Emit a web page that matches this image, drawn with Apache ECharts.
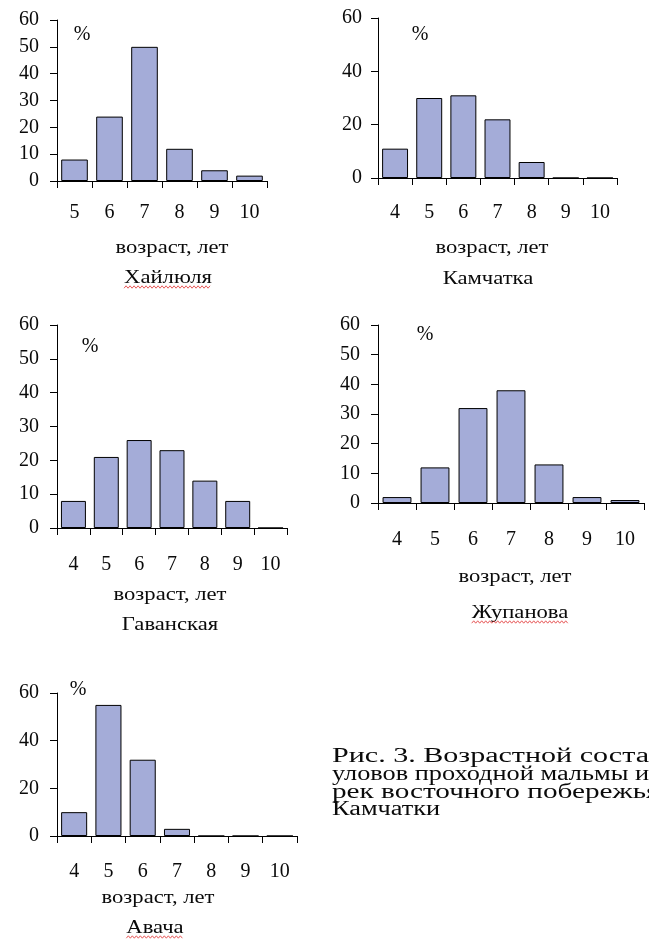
<!DOCTYPE html>
<html><head><meta charset="utf-8">
<script src="https://cdn.jsdelivr.net/npm/echarts@6/dist/echarts.min.js"></script>
<style>html,body{margin:0;padding:0;background:#fff}#c{width:649px;height:940px}</style>
</head><body><div id="c"></div>
<script>
// ---- data ----
const ages6 = ['5', '6', '7', '8', '9', '10'];
const ages7 = ['4', '5', '6', '7', '8', '9', '10'];
const khailyulya = [8, 24, 50, 12, 4, 2];
const kamchatka = [11, 30, 31, 22, 6, 0, 0];
const gavanskaya = [8, 21, 26, 23, 14, 8, 0];
const zhupanova = [2, 12, 32, 38, 13, 2, 1];
const avacha = [10, 55, 32, 3, 0, 0, 0];
const yMax = 60;
const stationNames = ['Хайлюля', 'Камчатка', 'Гаванская', 'Жупанова', 'Авача'];
const axisTitle = 'возраст, лет';
const unitLabel = '%';
const captionLines = ['Рис. 3. Возрастной состав', 'уловов проходной мальмы из', 'рек восточного побережья', 'Камчатки'];

// ---- layout ----
const FONT_FAMILY = '"Liberation Serif", "Times New Roman", serif';
const TXT = '#0a0a0a';
const BAR = '#a4acd8';
const TICK_FS = 20;
const panels = [
  {cats: ages6, vals: khailyulya, step: 10, grid: {left: 57, top: 20, width: 210, height: 161}, xm: 22, ym: 18, pct: [82, 35], ax: [172, 248], nm: [168, 278], wavy: true},
  {cats: ages7, vals: kamchatka, step: 20, grid: {left: 378, top: 18, width: 239, height: 160}, xm: 25, ym: 16, pct: [420, 35], ax: [492, 248], nm: [488, 279], wavy: false},
  {cats: ages7, vals: gavanskaya, step: 10, grid: {left: 57, top: 325, width: 230, height: 203}, xm: 27, ym: 18, pct: [90, 347], ax: [170, 595], nm: [170, 625], wavy: false},
  {cats: ages7, vals: zhupanova, step: 10, grid: {left: 378, top: 325, width: 266, height: 178}, xm: 27, ym: 18, pct: [425, 335], ax: [515, 577], nm: [520, 613], wavy: true},
  {cats: ages7, vals: avacha, step: 20, grid: {left: 57, top: 693, width: 240, height: 143}, xm: 26, ym: 18, pct: [78, 690], ax: [158, 898], nm: [155, 928], wavy: true}
];

const mctx = document.createElement('canvas').getContext('2d');
function tw(t, font) { mctx.font = font; return mctx.measureText(t).width; }

const nameFont = '18px ' + FONT_FAMILY;
const nameScale = 113 / tw(axisTitle, nameFont);

const grids = [], xAxes = [], yAxes = [], series = [], graphics = [];
panels.forEach((p, i) => {
  grids.push(Object.assign({containLabel: false}, p.grid));
  xAxes.push({
    type: 'category', gridIndex: i, data: p.cats,
    axisLine: {show: true, lineStyle: {color: '#000', width: 1}},
    axisTick: {show: true, length: 7, interval: 0, lineStyle: {color: '#000', width: 1}},
    axisLabel: {interval: 0, margin: p.xm, fontSize: TICK_FS, fontFamily: FONT_FAMILY, color: TXT},
    splitLine: {show: false}
  });
  yAxes.push({
    type: 'value', gridIndex: i, min: 0, max: yMax, interval: p.step,
    axisLine: {show: true, lineStyle: {color: '#000', width: 1}},
    axisTick: {show: true, length: 7, lineStyle: {color: '#000', width: 1}},
    axisLabel: {margin: p.ym, fontSize: TICK_FS, fontFamily: FONT_FAMILY, color: TXT},
    splitLine: {show: false}
  });
  series.push({
    type: 'bar', xAxisIndex: i, yAxisIndex: i, data: p.vals,
    barCategoryGap: '24%', silent: true,
    itemStyle: {color: BAR, borderColor: '#000', borderWidth: 1}
  });
  graphics.push({type: 'text', x: p.pct[0], y: p.pct[1], silent: true,
    style: {text: unitLabel, font: '20px ' + FONT_FAMILY, fill: TXT, textAlign: 'center', textVerticalAlign: 'middle'}});
  graphics.push({type: 'text', x: p.ax[0], y: p.ax[1], scaleX: nameScale, silent: true,
    style: {text: axisTitle, font: nameFont, fill: TXT, textAlign: 'center', textVerticalAlign: 'middle'}});
  graphics.push({type: 'text', x: p.nm[0], y: p.nm[1], scaleX: nameScale, silent: true,
    style: {text: stationNames[i], font: nameFont, fill: TXT, textAlign: 'center', textVerticalAlign: 'middle'}});
  if (p.wavy) {
    const w = tw(stationNames[i], nameFont) * nameScale;
    const pts = [];
    const x0 = p.nm[0] - w / 2, yb = p.nm[1] + 9;
    for (let k = 0; x0 + k * 2 <= x0 + w; k++) pts.push([x0 + k * 2, yb + (k % 2 ? -1.2 : 1.2)]);
    graphics.push({type: 'polyline', silent: true, shape: {points: pts}, style: {stroke: '#e03030', lineWidth: 0.8, fill: null}});
  }
});

// caption (justified in the original; each visible prefix stretched to its measured span)
const capFont = '20px ' + FONT_FAMILY;
const capSpans = [['Рис. 3. Возрастной соста', 317], ['уловов проходной мальмы и', 317], ['рек восточного побережь', 314]];
const capBase = [763, 781, 799, 816];
const capScales = capSpans.map(s => s[1] / tw(s[0], capFont));
capScales.push(capScales[1]);
captionLines.forEach((t, k) => {
  graphics.push({type: 'text', x: 332, y: capBase[k] - 6, scaleX: capScales[k], silent: true,
    style: {text: t, font: capFont, fill: TXT, textAlign: 'left', textVerticalAlign: 'middle'}});
});

const chart = echarts.init(document.getElementById('c'), null, {renderer: 'canvas'});
chart.setOption({
  animation: false,
  backgroundColor: '#fff',
  grid: grids, xAxis: xAxes, yAxis: yAxes, series: series,
  graphic: {elements: graphics}
});
</script></body></html>
